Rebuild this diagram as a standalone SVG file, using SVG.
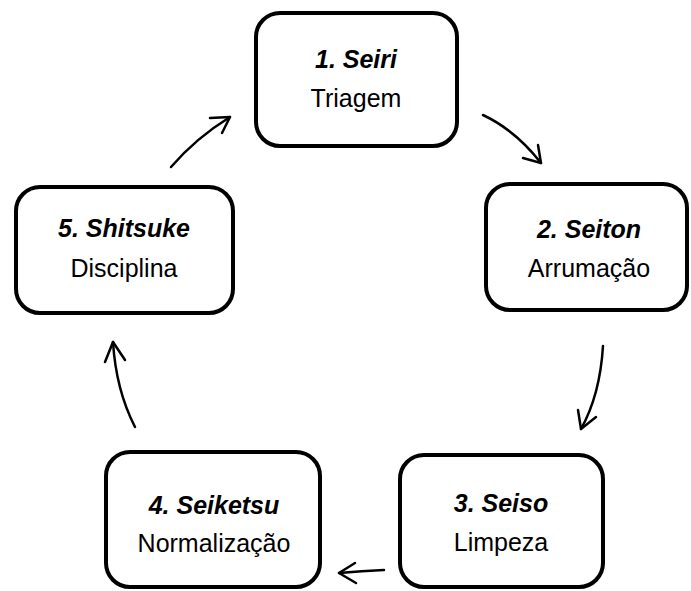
<svg xmlns="http://www.w3.org/2000/svg" width="691" height="591" viewBox="0 0 691 591">
<style>
.box{fill:#fff;stroke:#000;stroke-width:4}
.t{font-family:"Liberation Sans",Arial,sans-serif;font-size:25px;fill:#000;text-anchor:middle}
.h{font-weight:bold;font-style:italic}
.c{fill:none;stroke:#000;stroke-width:2.5;stroke-linecap:round;stroke-linejoin:round}
</style>
<rect width="691" height="591" fill="#fff"/>
<g id="n1">
<rect class="box" x="256" y="13" width="201" height="133" rx="24"/>
<text class="t h" x="356" y="68">1. Seiri</text>
<text class="t" x="356" y="107">Triagem</text>
</g>
<g id="n2">
<rect class="box" x="486" y="184" width="201" height="126" rx="24"/>
<text class="t h" x="589" y="238">2. Seiton</text>
<text class="t" x="589" y="277">Arrumação</text>
</g>
<g id="n3">
<rect class="box" x="400" y="455" width="203" height="132" rx="24"/>
<text class="t h" x="501" y="512">3. Seiso</text>
<text class="t" x="501" y="551">Limpeza</text>
</g>
<g id="n4">
<rect class="box" x="106" y="452" width="214" height="135" rx="24"/>
<text class="t h" x="214" y="514">4. Seiketsu</text>
<text class="t" x="214" y="552">Normalização</text>
</g>
<g id="n5">
<rect class="box" x="16" y="187" width="217" height="126" rx="24"/>
<text class="t h" x="124" y="237">5. Shitsuke</text>
<text class="t" x="124" y="277">Disciplina</text>
</g>
<g id="connectors">
<path class="c" d="M483,115 Q515,130 541,163"/>
<path class="c" d="M523,158 L541,163 L538,145"/>
<path class="c" d="M603,346 Q600,395 581,429"/>
<path class="c" d="M578,410 L581,429 L596,417"/>
<path class="c" d="M384,570 Q362,571 339,573"/>
<path class="c" d="M355,563 L339,573 L356,583"/>
<path class="c" d="M135,427 Q116,390 113,342"/>
<path class="c" d="M105,362 L113,342 L125,360"/>
<path class="c" d="M171,167 Q196,138 230,117"/>
<path class="c" d="M210,118 L230,117 L222,133"/>
</g>
</svg>
